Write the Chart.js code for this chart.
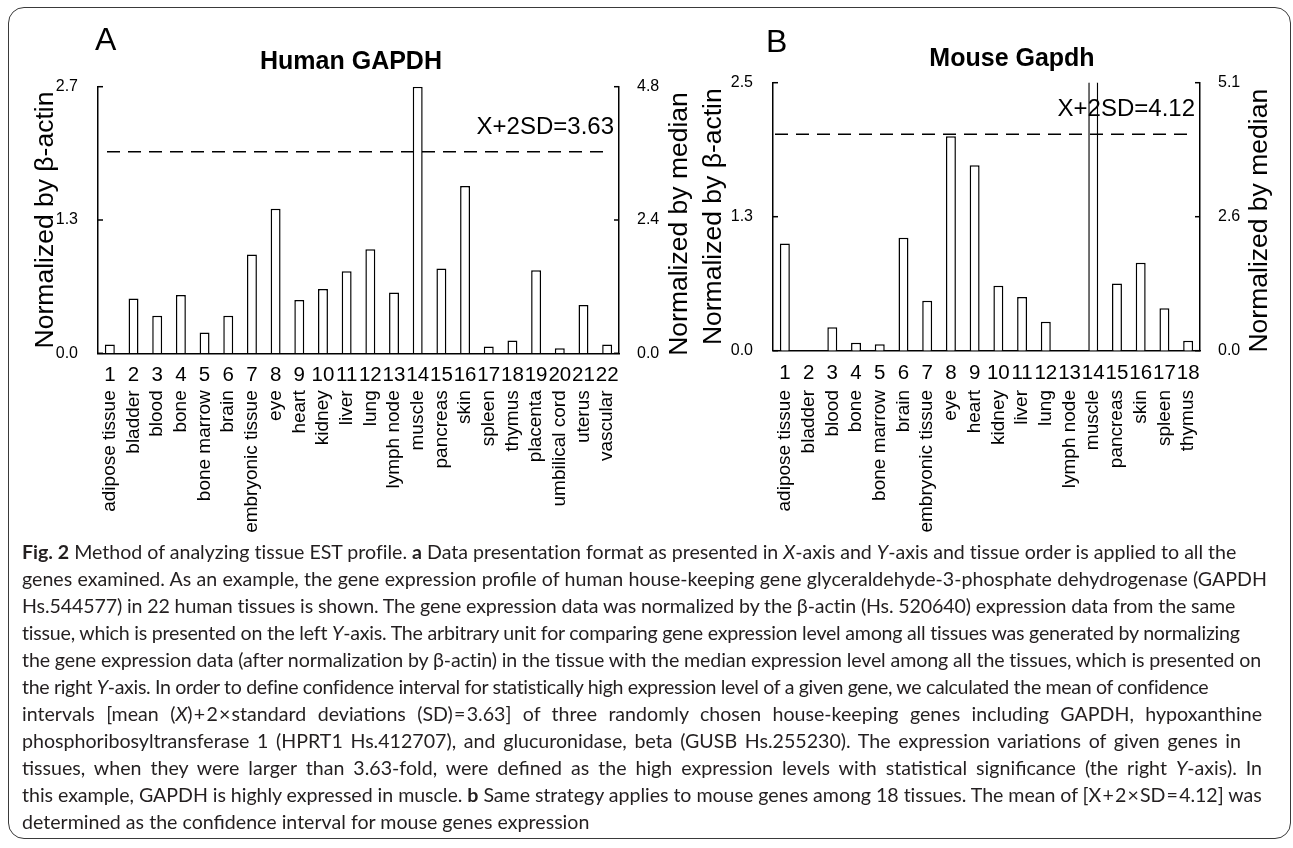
<!DOCTYPE html>
<html>
<head>
<meta charset="utf-8">
<title>Fig. 2</title>
<script src="https://cdn.jsdelivr.net/npm/chart.js@4.4.1/dist/chart.umd.min.js"></script>
<style>
  html, body { margin:0; padding:0; background:#fff; }
  #page { position:relative; width:1293px; height:848px; overflow:hidden; background:#fff; }
  #frame { position:absolute; left:8px; top:7px; width:1283px; height:832px; box-sizing:border-box;
           border:1.5px solid #3a3a3a; border-radius:16px; }
  canvas { position:absolute; top:0; }
  #cA { left:0; width:702px; height:560px; }
  #cB { left:690px; width:644px; height:560px; }
  .plabel { position:absolute; font-family:"Liberation Sans", Arial, sans-serif; font-size:32px; line-height:32px; color:#000; }
  #caption { position:absolute; left:22px; top:537.5px; font-family:Lato, "Noto Sans", sans-serif; color:#231f20; font-size:18.5px; }
  .ln { height:27px; line-height:27px; white-space:nowrap; }
  .ln span { white-space:nowrap; }
</style>
</head>
<body>
<div id="page">
  <div id="frame"></div>
  <canvas id="cA" width="702" height="560"></canvas>
  <canvas id="cB" width="644" height="560"></canvas>
  <div class="plabel" style="left:95px;top:23px">A</div>
  <div class="plabel" style="left:766px;top:25px">B</div>
  <div id="caption">
    <div class="ln" data-r="1237"><span><b>Fig. 2</b> Method of analyzing tissue EST profile. <b>a</b> Data presentation format as presented in <i>X</i>-axis and <i>Y</i>-axis and tissue order is applied to all the</span></div>
    <div class="ln" data-r="1267"><span>genes examined. As an example, the gene expression profile of human house-keeping gene glyceraldehyde-3-phosphate dehydrogenase (GAPDH</span></div>
    <div class="ln" data-r="1236"><span>Hs.544577) in 22 human tissues is shown. The gene expression data was normalized by the β-actin (Hs. 520640) expression data from the same</span></div>
    <div class="ln" data-r="1240"><span>tissue, which is presented on the left <i>Y</i>-axis. The arbitrary unit for comparing gene expression level among all tissues was generated by normalizing</span></div>
    <div class="ln" data-r="1262"><span>the gene expression data (after normalization by β-actin) in the tissue with the median expression level among all the tissues, which is presented on</span></div>
    <div class="ln" data-r="1208"><span>the right <i>Y</i>-axis. In order to define confidence interval for statistically high expression level of a given gene, we calculated the mean of confidence</span></div>
    <div class="ln" data-r="1262"><span>intervals [mean (<i>X</i>)&#8202;+&#8202;2&#8202;×&#8202;standard deviations (SD)&#8202;=&#8202;3.63] of three randomly chosen house-keeping genes including GAPDH, hypoxanthine</span></div>
    <div class="ln" data-r="1241"><span>phosphoribosyltransferase 1 (HPRT1 Hs.412707), and glucuronidase, beta (GUSB Hs.255230). The expression variations of given genes in</span></div>
    <div class="ln" data-r="1262"><span>tissues, when they were larger than 3.63-fold, were defined as the high expression levels with statistical significance (the right <i>Y</i>-axis). In</span></div>
    <div class="ln" data-r="1262"><span>this example, GAPDH is highly expressed in muscle. <b>b</b> Same strategy applies to mouse genes among 18 tissues. The mean of [X&#8202;+&#8202;2&#8202;×&#8202;SD&#8202;=&#8202;4.12] was</span></div>
    <div class="ln"><span id="lastLine">determined as the confidence interval for mouse genes expression</span></div>
  </div>
</div>
<script>
// ---------------- data ----------------
const humanTissues = ["adipose tissue","bladder","blood","bone","bone marrow","brain","embryonic tissue","eye","heart","kidney","liver","lung","lymph node","muscle","pancreas","skin","spleen","thymus","placenta","umbilical cord","uterus","vascular"];
const humanNumbers = ["1","2","3","4","5","6","7","8","9","10","11","12","13","14","15","16","17","18","19","20","21","22"];
const humanValues  = [0.09, 0.555, 0.38, 0.59, 0.21, 0.38, 1.00, 1.465, 0.54, 0.65, 0.83, 1.055, 0.615, 2.70, 0.86, 1.695, 0.068, 0.13, 0.84, 0.05, 0.49, 0.09];
const humanLeftTicks = [0, 1.35, 2.7];
const humanLeftTickLabels = ["0.0", "1.3", "2.7"];
const humanRightTicks = [0, 2.4, 4.8];
const humanRightTickLabels = ["0.0", "2.4", "4.8"];
const humanThreshold = 3.63;

const mouseTissues = ["adipose tissue","bladder","blood","bone","bone marrow","brain","embryonic tissue","eye","heart","kidney","liver","lung","lymph node","muscle","pancreas","skin","spleen","thymus"];
const mouseNumbers = ["1","2","3","4","5","6","7","8","9","10","11","12","13","14","15","16","17","18"];
const mouseValues  = [1.00, 0, 0.218, 0.075, 0.06, 1.054, 0.466, 2.00, 1.73, 0.606, 0.50, 0.27, 0, 2.90, 0.628, 0.82, 0.395, 0.093];
const mouseLeftTicks = [0, 1.25, 2.5];
const mouseLeftTickLabels = ["0.0", "1.3", "2.5"];
const mouseRightTicks = [0, 2.55, 5.1];
const mouseRightTickLabels = ["0.0", "2.6", "5.1"];
const mouseThreshold = 4.12;

// ---------------- caption layout ----------------
(function layoutCaption(){
  const cap = document.getElementById('caption');
  const last = document.getElementById('lastLine');
  cap.style.fontSize = '20px';
  const w = last.getBoundingClientRect().width;
  cap.style.fontSize = (20 * 568 / w).toFixed(2) + 'px';
  const capLeft = cap.getBoundingClientRect().left;
  document.querySelectorAll('#caption .ln').forEach(ln => {
    const target = parseFloat(ln.dataset.r);
    if (!target) return;
    const span = ln.querySelector('span');
    const nat = span.getBoundingClientRect().width;
    const delta = target - capLeft - nat;
    if (delta >= 0) {
      const spaces = (span.textContent.match(/ /g) || []).length;
      if (spaces > 0) span.style.wordSpacing = (delta / spaces).toFixed(3) + 'px';
    } else {
      const chars = span.textContent.length;
      span.style.letterSpacing = (delta / chars).toFixed(3) + 'px';
    }
  });
})();

// ---------------- charts ----------------
const FONT = '"Liberation Sans", Arial, Helvetica, sans-serif';
Chart.defaults.font.family = FONT;
Chart.defaults.color = '#000';

function buildChart(id, c) {
  const overlay = {
    id: 'overlay_' + id,
    afterDraw(chart) {
      const ctx = chart.ctx;
      const {left, right, top, bottom} = chart.chartArea;
      const yL = chart.scales.y, yR = chart.scales.y2;
      ctx.save();
      ctx.strokeStyle = '#000';
      ctx.lineWidth = 1.5;
      // inward tick marks
      yL.ticks.forEach(t => {
        const p = yL.getPixelForValue(t.value);
        ctx.beginPath(); ctx.moveTo(left, p); ctx.lineTo(left + 5, p); ctx.stroke();
      });
      yR.ticks.forEach(t => {
        const p = yR.getPixelForValue(t.value);
        ctx.beginPath(); ctx.moveTo(right, p); ctx.lineTo(right - 5, p); ctx.stroke();
      });
      // threshold dashed line (right-axis units)
      const ty = yR.getPixelForValue(c.threshold);
      ctx.setLineDash([13, 8]);
      ctx.beginPath(); ctx.moveTo(left + c.dashStart, ty); ctx.lineTo(right - c.dashEnd, ty); ctx.stroke();
      ctx.setLineDash([]);
      ctx.fillStyle = '#000';
      ctx.font = '24px ' + FONT;
      ctx.textAlign = 'right';
      ctx.textBaseline = 'alphabetic';
      ctx.fillText('X+2SD=' + c.threshold.toFixed(2), right - 5, ty - 18);
      // right axis title, reading bottom-to-top
      ctx.translate(right + c.rightTitleOffset, (top + bottom) / 2 + 4);
      ctx.rotate(-Math.PI / 2);
      ctx.textAlign = 'center';
      ctx.textBaseline = 'middle';
      ctx.font = '26.5px ' + FONT;
      ctx.fillText('Normalized by median', 0, 0);
      ctx.restore();
    }
  };

  return new Chart(document.getElementById(id), {
    type: 'bar',
    data: {
      labels: c.numbers,
      datasets: [{
        data: c.values,
        xAxisID: 'x', yAxisID: 'y',
        backgroundColor: '#ffffff',
        borderColor: '#000000',
        borderWidth: 1.5,
        barPercentage: 0.42,
        categoryPercentage: 1.0
      }]
    },
    options: {
      responsive: false,
      animation: false,
      events: [],
      layout: { padding: 0 },
      plugins: {
        legend: { display: false },
        tooltip: { enabled: false },
        title: {
          display: true, text: c.title, color: '#000', fullSize: true,
          font: { size: 25, weight: 'bold' },
          padding: { top: c.titleTop, bottom: c.titleBottom }
        }
      },
      scales: {
        x: {
          type: 'category', position: 'bottom', offset: true, weight: 0,
          grid: { display: false, drawTicks: false },
          border: { display: true, color: '#000', width: 1.5 },
          ticks: { font: { size: 20.5 }, color: '#000', padding: 10, maxRotation: 0, minRotation: 0, autoSkip: false },
          afterFit: s => { s.height = c.numHeight; }
        },
        x2: {
          type: 'category', position: 'bottom', offset: true, weight: 1,
          labels: c.tissues,
          grid: { display: false, drawTicks: false },
          border: { display: false },
          ticks: { font: { size: 19 }, color: '#000', padding: 2, maxRotation: 90, minRotation: 90, autoSkip: false },
          afterFit: s => { s.height = c.tissueHeight; }
        },
        y: {
          type: 'linear', position: 'left', min: 0, max: c.leftTicks[c.leftTicks.length - 1],
          grid: { display: false, drawTicks: false },
          border: { display: true, color: '#000', width: 1.5 },
          afterBuildTicks: s => { s.ticks = c.leftTicks.map(v => ({ value: v })); },
          ticks: { callback: (v, i) => c.leftTickLabels[i], font: { size: 16 }, color: '#000', padding: 20 },
          title: { display: true, text: 'Normalized by β-actin', color: '#000', font: { size: 26.5 },
                   padding: { top: c.leftTitlePad, bottom: 0 } },
          afterFit: s => { s.width = c.leftWidth; }
        },
        y2: {
          type: 'linear', position: 'right', min: 0, max: c.rightTicks[c.rightTicks.length - 1],
          grid: { display: false, drawTicks: false },
          border: { display: true, color: '#000', width: 1.5 },
          afterBuildTicks: s => { s.ticks = c.rightTicks.map(v => ({ value: v })); },
          ticks: { callback: (v, i) => c.rightTickLabels[i], font: { size: 16 }, color: '#000', padding: 18 },
          afterFit: s => { s.width = c.rightWidth; }
        }
      }
    },
    plugins: [overlay]
  });
}

buildChart('cA', {
  title: 'Human GAPDH',
  numbers: humanNumbers, tissues: humanTissues, values: humanValues,
  leftTicks: humanLeftTicks, leftTickLabels: humanLeftTickLabels,
  rightTicks: humanRightTicks, rightTickLabels: humanRightTickLabels,
  threshold: humanThreshold,
  titleTop: 47, titleBottom: 9.7,
  leftWidth: 98, rightWidth: 83,
  numHeight: 35, tissueHeight: 171.7,
  leftTitlePad: 30, rightTitleOffset: 61,
  dashStart: 9, dashEnd: 12
});

buildChart('cB', {
  title: 'Mouse Gapdh',
  numbers: mouseNumbers, tissues: mouseTissues, values: mouseValues,
  leftTicks: mouseLeftTicks, leftTickLabels: mouseLeftTickLabels,
  rightTicks: mouseRightTicks, rightTickLabels: mouseRightTickLabels,
  threshold: mouseThreshold,
  titleTop: 44, titleBottom: 8.7,
  leftWidth: 83, rightWidth: 134,
  numHeight: 37.3, tissueHeight: 172,
  leftTitlePad: 8, rightTitleOffset: 60,
  dashStart: 2, dashEnd: 8
});
</script>
</body>
</html>
